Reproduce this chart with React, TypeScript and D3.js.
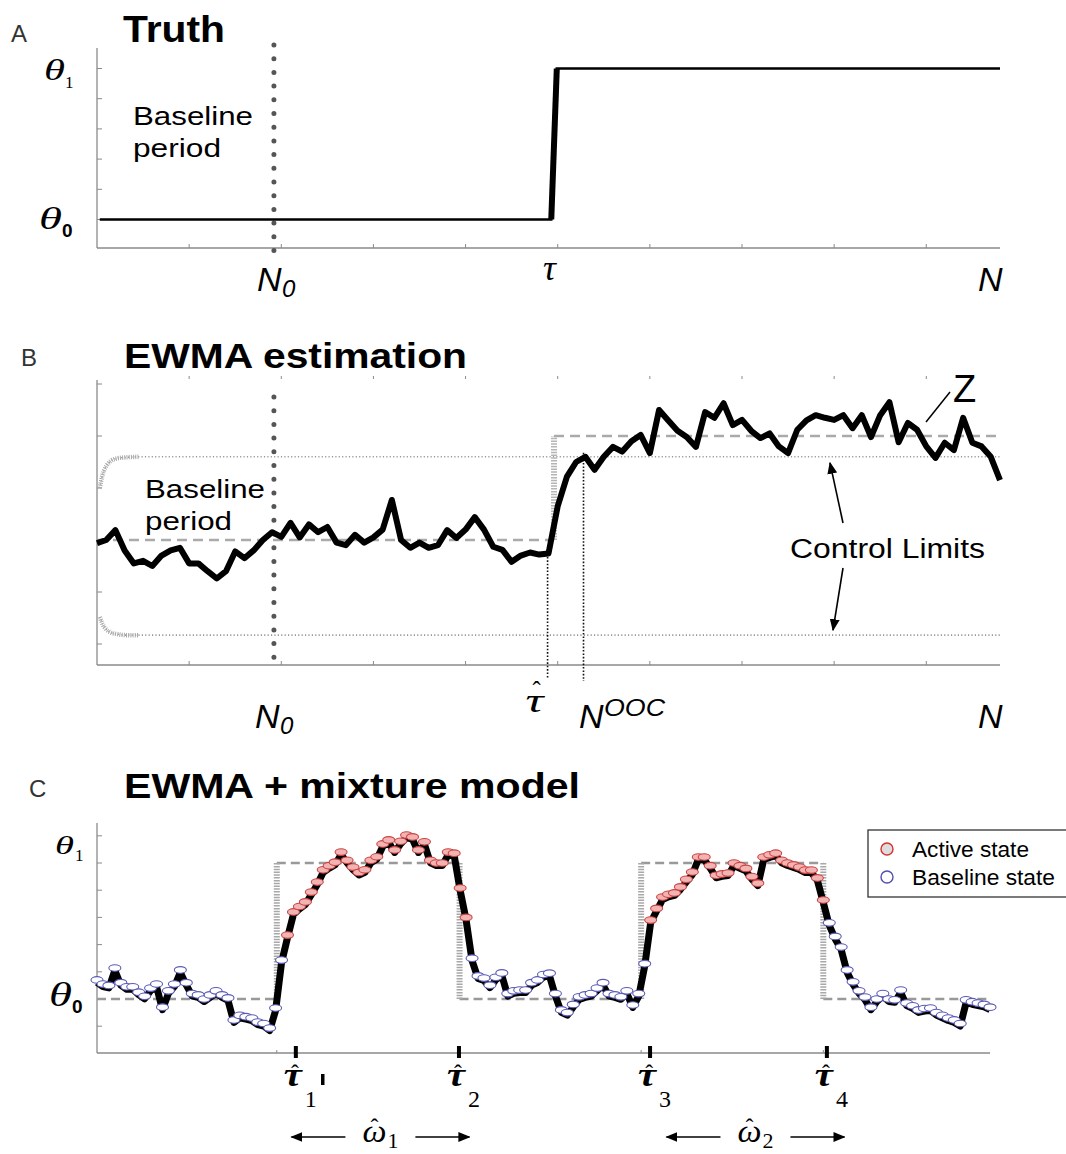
import React from 'react';
import * as d3 from 'd3';

// ---------- Panel A: true mean ----------
const truthX = [0.3, 49.3, 49.9, 98];
const truthY = [0, 0, 5, 5]; // θ0 = 0, θ1 = 5
const n0 = 19.2;
const tauTrue = 49.6;

// ---------- Panel B: EWMA statistic ----------
const ewmaB = [
  -0.06, 0.0, 0.19, -0.2, -0.45, -0.4, -0.5, -0.3, -0.2, -0.15,
  -0.45, -0.45, -0.6, -0.74, -0.6, -0.22, -0.35, -0.2, 0.0, 0.15,
  0.06, 0.33, 0.05, 0.3, 0.15, 0.25, -0.05, -0.1, 0.1, -0.05,
  0.05, 0.2, 0.77, 0.0, -0.15, -0.05, -0.15, -0.1, 0.19, 0.04,
  0.2, 0.44, 0.2, -0.13, -0.19, -0.42, -0.3, -0.24, -0.28, -0.26,
  0.65, 1.22, 1.5, 1.6, 1.35, 1.6, 1.79, 1.7, 1.9, 2.02,
  1.67, 2.5, 2.3, 2.1, 1.98, 1.79, 2.46, 2.35, 2.63, 2.21,
  2.31, 2.1, 1.96, 2.05, 1.8, 1.67, 2.12, 2.3, 2.4, 2.35,
  2.31, 2.4, 2.15, 2.4, 1.98, 2.4, 2.65, 1.88, 2.25, 2.12,
  1.8, 1.58, 1.87, 1.73, 2.35, 1.87, 1.8, 1.6, 1.15,
];
const meanEstX = [0, 49.3, 49.6, 98];
const meanEstY = [0, 0, 2, 2];
const tauHatB = 48.9;
const nOOC = 52.8;
const clX = [0.3, 0.6, 1.0, 1.5, 2.2, 3.2, 4.5, 98];
const clUpper = [1.0, 1.25, 1.42, 1.52, 1.57, 1.59, 1.6, 1.6];
const clLower = [-1.48, -1.62, -1.72, -1.78, -1.81, -1.83, -1.83, -1.83];
const clRampEnd = 6; // index where the start-up curve of the limits ends

// ---------- Panel C: EWMA + mixture model ----------
const ewmaC = [
  0.7, 0.55, 0.5, 1.14, 0.6, 0.45, 0.45, 0.25, 0.1, 0.4,
  0.55, -0.3, 0.3, 0.55, 1.07, 0.6, 0.2, 0.15, 0.0, 0.15,
  0.3, 0.15, 0.04, -0.77, -0.6, -0.65, -0.7, -0.85, -0.9, -1.07,
  -0.33, 1.43, 2.35, 3.2, 3.4, 3.57, 3.93, 4.3, 4.75, 4.9,
  5.03, 5.4, 5.1, 4.85, 4.65, 4.75, 5.1, 5.23, 5.7, 5.85,
  5.48, 5.8, 6.03, 5.96, 5.48, 5.78, 5.1, 5.0, 5.0, 5.4,
  5.36, 4.08, 3.0, 1.5, 0.85, 0.77, 0.51, 0.8, 0.96, 0.2,
  0.3, 0.33, 0.33, 0.6, 0.7, 0.9, 0.95, 0.2, -0.4, -0.5,
  -0.2, 0.08, 0.15, 0.2, 0.4, 0.6, 0.2, 0.15, 0.08, 0.3,
  -0.22, 0.2, 1.3, 2.9, 3.33, 3.75, 3.85, 3.9, 4.12, 4.4,
  4.67, 5.22, 5.22, 4.9, 4.55, 4.6, 4.63, 5.0, 4.9, 4.8,
  4.5, 4.26, 5.22, 5.3, 5.36, 5.1, 5.0, 4.93, 4.85, 4.74,
  4.74, 4.45, 3.64, 2.8, 2.3, 1.91, 1.07, 0.63, 0.3, 0.07,
  -0.3, 0.0, 0.2, 0.0, -0.03, 0.33, -0.15, -0.25, -0.4, -0.35,
  -0.33, -0.5, -0.6, -0.7, -0.77, -0.9, -0.03, -0.1, -0.15, -0.2,
  -0.3,
];
const activeRanges = [[32, 62], [93, 122]];
const trueSteps = [30.2, 60.9, 91.4, 122];
const tauHatC = [33.4, 60.8, 92.9, 122.6];
const tauHatLabels = ['1', '2', '3', '4'];
const omegaLabels = ['1', '2'];
const omegaShift = [0, 14]; // nudge of each ω̂ label from the middle of its interval, px
const legendItems = ['Active state', 'Baseline state'];

const SANS = '"Liberation Sans", Arial, Helvetica, sans-serif';
const SERIF = '"Liberation Serif", "Times New Roman", serif';
const AXIS = '#8a8a8a';

// τ̂ (optionally with a subscript) as one text element
function TauHat({ x, y, sub, size, hatLift, bold, width }: {
  x: number; y: number; sub?: string; size: number; hatLift: number; bold?: boolean; width?: number;
}) {
  const hs = size * 0.72;
  const w = width ?? size * 0.45;
  return (
    <text fontFamily={SERIF}>
      <tspan x={x} y={y} fontSize={size} fontStyle="italic" fontWeight={bold ? 'bold' : 'normal'}
        textLength={width} lengthAdjust={width ? 'spacingAndGlyphs' : undefined}>τ</tspan>
      <tspan x={x + w * 0.62 - hs * 0.17} y={y - hatLift} fontSize={hs}>ˆ</tspan>
      {sub && <tspan x={x + w + 3} y={y + 21} fontSize={24}>{sub}</tspan>}
    </text>
  );
}

function NLabel({ x, y, sub }: { x: number; y: number; sub?: string }) {
  return (
    <text fontFamily={SANS} fontStyle="italic">
      <tspan x={x} y={y} fontSize={34}>N</tspan>
      {sub && <tspan x={x + 25} y={y + 6} fontSize={24}>{sub}</tspan>}
    </text>
  );
}

function Theta({ x, y, size, width, sub, subSize, subX, subY, subBold }: {
  x: number; y: number; size: number; width: number; sub: string; subSize: number; subX: number; subY: number; subBold?: boolean;
}) {
  return (
    <text>
      <tspan x={x} y={y} fontFamily={SERIF} fontStyle="italic" fontSize={size} textLength={width} lengthAdjust="spacingAndGlyphs">θ</tspan>
      <tspan x={subX} y={subY} fontFamily={subBold ? SANS : SERIF} fontWeight={subBold ? 'bold' : 'normal'} fontSize={subSize}>{sub}</tspan>
    </text>
  );
}

export default function App() {
  const xAB = d3.scaleLinear().domain([0, 98]).range([97, 1000]);
  const yA = d3.scaleLinear().domain([0, 5]).range([219.5, 68.5]);
  const yB = d3.scaleLinear().domain([0, 2]).range([540, 436]);
  const xC = d3.scaleLinear().domain([0, 150]).range([97, 990]);
  const yC = d3.scaleLinear().domain([0, 5]).range([999, 863]);

  const xTicksAB = d3.range(10, 91, 10);

  // Panel A paths
  const truthLine = d3.line<number>().x((_, i) => xAB(truthX[i])).y((d) => yA(d));
  const truthPath = truthLine(truthY) || '';
  const jumpPath = d3.line<number>().x((_, i) => xAB(truthX[i + 1])).y((d) => yA(d))(truthY.slice(1, 3)) || '';

  // Panel B paths
  const ewmaBPath = d3.line<number>().x((_, i) => xAB(i)).y((d) => yB(d))(ewmaB) || '';
  const clLine = d3.line<number>().x((_, i) => xAB(clX[i])).y((d) => yB(d)).curve(d3.curveMonotoneX);
  const clUpPath = clLine(clUpper) || '';
  const clLoPath = clLine(clLower) || '';
  const clUpRamp = clLine(clUpper.slice(0, clRampEnd + 1)) || '';
  const clLoRamp = clLine(clLower.slice(0, clRampEnd + 1)) || '';
  const clUpLast = clUpper[clUpper.length - 1];
  const clLoLast = clLower[clLower.length - 1];

  // Panel C paths
  const ewmaCPath = d3.line<number>().x((_, i) => xC(i)).y((d) => yC(d))(ewmaC) || '';
  const isActive = (i: number) => activeRanges.some(([a, b]) => i >= a && i <= b);
  const levelAt = (k: number) => (k % 2 === 0 ? 0 : 5);
  const stepBounds = [0, ...trueSteps, 150];

  const arrow = (x1: number, y1: number, x2: number, y2: number, key: string) => (
    <line key={key} x1={x1} y1={y1} x2={x2} y2={y2} stroke="#000" strokeWidth={1.6} markerEnd="url(#head)" />
  );

  return (
    <div style={{ position: 'absolute', left: 0, top: 0 }}>
      <svg width={1066} height={1154} style={{ display: 'block', background: '#fff' }}>
        <defs>
          <marker id="head" viewBox="0 0 12 10" refX="11" refY="5" markerWidth="12" markerHeight="10" markerUnits="userSpaceOnUse" orient="auto">
            <path d="M0,0 L12,5 L0,10 Z" fill="#000" />
          </marker>
        </defs>

        {/* ================= Panel A ================= */}
        <text x={11} y={42} fontFamily={SANS} fontSize={24} fill="#333">A</text>
        <text x={123} y={42} fontFamily={SANS} fontSize={37} fontWeight="bold" textLength={102} lengthAdjust="spacingAndGlyphs">Truth</text>
        <line x1={97} y1={48} x2={97} y2={248} stroke={AXIS} strokeWidth={1.3} />
        <line x1={97} y1={248} x2={1000} y2={248} stroke={AXIS} strokeWidth={1.3} />
        {d3.range(0, 6).map((v) => (
          <line key={`ay${v}`} x1={97} x2={102} y1={yA(v)} y2={yA(v)} stroke={AXIS} strokeWidth={1} />
        ))}
        {xTicksAB.map((t) => (
          <line key={`ax${t}`} x1={xAB(t)} x2={xAB(t)} y1={248} y2={244} stroke={AXIS} strokeWidth={1} />
        ))}
        <line x1={xAB(n0)} x2={xAB(n0)} y1={45} y2={251} stroke="#555" strokeWidth={5} strokeLinecap="round" strokeDasharray="0 13.7" />
        <path d={truthPath} fill="none" stroke="#000" strokeWidth={2.6} />
        <path d={jumpPath} fill="none" stroke="#000" strokeWidth={6} />
        <text x={133} y={125} fontFamily={SANS} fontSize={26} textLength={120} lengthAdjust="spacingAndGlyphs">Baseline</text>
        <text x={133} y={157} fontFamily={SANS} fontSize={26} textLength={88} lengthAdjust="spacingAndGlyphs">period</text>
        <Theta x={44} y={80} size={29} width={21} sub="1" subSize={17} subX={65} subY={88} />
        <Theta x={39} y={229} size={32} width={23} sub="0" subSize={19} subX={62} subY={237} subBold />
        <NLabel x={257} y={291} sub="0" />
        <text x={xAB(tauTrue) - 11} y={280} fontFamily={SERIF} fontStyle="italic" fontSize={36}>τ</text>
        <NLabel x={978} y={291} />

        {/* ================= Panel B ================= */}
        <text x={21} y={366} fontFamily={SANS} fontSize={24} fill="#333">B</text>
        <text x={124} y={368} fontFamily={SANS} fontSize={35} fontWeight="bold" textLength={343} lengthAdjust="spacingAndGlyphs">EWMA estimation</text>
        <line x1={97} y1={380} x2={97} y2={665} stroke={AXIS} strokeWidth={1.3} />
        <line x1={97} y1={665} x2={1000} y2={665} stroke={AXIS} strokeWidth={1.3} />
        {d3.range(-2, 4).map((v) => (
          <line key={`by${v}`} x1={97} x2={102} y1={yB(v)} y2={yB(v)} stroke={AXIS} strokeWidth={1} />
        ))}
        {xTicksAB.map((t) => (
          <g key={`bx${t}`}>
            <line x1={xAB(t)} x2={xAB(t)} y1={665} y2={661} stroke={AXIS} strokeWidth={1} />
            <line x1={xAB(t)} x2={xAB(t)} y1={376} y2={379} stroke={AXIS} strokeWidth={1} />
          </g>
        ))}
        {/* control limits */}
        <path d={clUpPath} fill="none" stroke="#999" strokeWidth={1.6} strokeDasharray="1.2 2.2" />
        <path d={clLoPath} fill="none" stroke="#999" strokeWidth={1.6} strokeDasharray="1.2 2.2" />
        <path d={clUpRamp} fill="none" stroke="#aaa" strokeWidth={4.5} strokeDasharray="1 1.2" />
        <path d={clLoRamp} fill="none" stroke="#aaa" strokeWidth={4.5} strokeDasharray="1 1.2" />
        {/* estimated mean */}
        <line x1={xAB(meanEstX[0])} x2={xAB(meanEstX[1])} y1={yB(meanEstY[0])} y2={yB(meanEstY[1])} stroke="#aaa" strokeWidth={2.6} strokeDasharray="10 6" />
        <line x1={xAB(meanEstX[2])} x2={xAB(meanEstX[2])} y1={yB(meanEstY[1])} y2={yB(meanEstY[2])} stroke="#b5b5b5" strokeWidth={6} strokeDasharray="1.5 1.3" />
        <line x1={xAB(meanEstX[2])} x2={xAB(meanEstX[3])} y1={yB(meanEstY[2])} y2={yB(meanEstY[3])} stroke="#aaa" strokeWidth={2.6} strokeDasharray="10 6" />
        <line x1={xAB(n0)} x2={xAB(n0)} y1={397} y2={658} stroke="#555" strokeWidth={5} strokeLinecap="round" strokeDasharray="0 13.7" />
        <line x1={xAB(tauHatB)} x2={xAB(tauHatB)} y1={yB(ewmaB[49])} y2={679} stroke="#111" strokeWidth={1.6} strokeDasharray="1.6 1.8" />
        <line x1={xAB(nOOC)} x2={xAB(nOOC)} y1={yB(clUpLast) - 4} y2={681} stroke="#111" strokeWidth={1.6} strokeDasharray="1.6 1.8" />
        <path d={ewmaBPath} fill="none" stroke="#000" strokeWidth={6} strokeLinejoin="round" />
        <text x={145} y={498} fontFamily={SANS} fontSize={26} textLength={120} lengthAdjust="spacingAndGlyphs">Baseline</text>
        <text x={145} y={530} fontFamily={SANS} fontSize={26} textLength={87} lengthAdjust="spacingAndGlyphs">period</text>
        <text x={790} y={558} fontFamily={SANS} fontSize={27} textLength={195} lengthAdjust="spacingAndGlyphs">Control Limits</text>
        {arrow(843, 523, 830, yB(clUpLast) + 6, 'upArrow')}
        {arrow(843, 568, 833, yB(clLoLast) - 5, 'loArrow')}
        <text x={953} y={402} fontFamily={SANS} fontSize={38}>Z</text>
        <line x1={950} y1={392} x2={926} y2={422} stroke="#000" strokeWidth={1.5} />
        <NLabel x={255} y={728} sub="0" />
        <TauHat x={xAB(tauHatB) - 22} y={712} size={34} hatLift={13} width={18} />
        <text fontFamily={SANS} fontStyle="italic">
          <tspan x={579} y={728} fontSize={34}>N</tspan>
          <tspan x={604} y={716} fontSize={24} textLength={61} lengthAdjust="spacingAndGlyphs">OOC</tspan>
        </text>
        <NLabel x={978} y={728} />

        {/* ================= Panel C ================= */}
        <text x={29} y={797} fontFamily={SANS} fontSize={24} fill="#333">C</text>
        <text x={124} y={798} fontFamily={SANS} fontSize={35} fontWeight="bold" textLength={456} lengthAdjust="spacingAndGlyphs">EWMA + mixture model</text>
        <line x1={97} y1={823} x2={97} y2={1053} stroke={AXIS} strokeWidth={1.3} />
        <line x1={97} y1={1053} x2={990} y2={1053} stroke={AXIS} strokeWidth={1.3} />
        {d3.range(-1, 7).map((v) => (
          <line key={`cy${v}`} x1={97} x2={102} y1={yC(v)} y2={yC(v)} stroke={AXIS} strokeWidth={1} />
        ))}
        {trueSteps.map((s) => (
          <line key={`cx${s}`} x1={xC(s)} x2={xC(s)} y1={1053} y2={1050} stroke={AXIS} strokeWidth={1} />
        ))}
        {/* true on/off signal */}
        {stepBounds.slice(0, -1).map((b, k) => (
          <line key={`lvl${k}`} x1={xC(b)} x2={xC(stepBounds[k + 1])} y1={yC(levelAt(k))} y2={yC(levelAt(k))} stroke="#999" strokeWidth={2.6} strokeDasharray="9 5" />
        ))}
        {trueSteps.map((s, k) => (
          <line key={`jump${k}`} x1={xC(s)} x2={xC(s)} y1={yC(0)} y2={yC(5)} stroke="#a8a8a8" strokeWidth={6} strokeDasharray="1.5 1.3" />
        ))}
        <path d={ewmaCPath} fill="none" stroke="#000" strokeWidth={7} strokeLinejoin="round" transform="translate(0,2.5)" />
        {ewmaC.map((v, i) => (
          <ellipse
            key={`m${i}`}
            cx={xC(i)}
            cy={yC(v)}
            rx={6}
            ry={3.3}
            fill={isActive(i) ? '#f2b3b3' : '#fff'}
            stroke={isActive(i) ? '#cc4444' : '#5a5ab8'}
            strokeWidth={1.1}
          />
        ))}
        <Theta x={55} y={854} size={26} width={19} sub="1" subSize={17} subX={75} subY={861} />
        <Theta x={49} y={1006} size={33} width={23} sub="0" subSize={19} subX={72} subY={1013} subBold />
        {tauHatC.map((t, k) => (
          <g key={`th${k}`}>
            <rect x={xC(t) - 2} y={1046} width={4} height={12} fill="#000" />
            <TauHat x={xC(t) - 12} y={1086} sub={tauHatLabels[k]} size={33} hatLift={5} bold width={18} />
          </g>
        ))}
        <rect x={321} y={1074} width={3.5} height={11} fill="#000" />
        {omegaLabels.map((lab, k) => {
          const cx = xC((tauHatC[2 * k] + tauHatC[2 * k + 1]) / 2) + omegaShift[k];
          return (
            <g key={`om${k}`}>
              <text fontFamily={SERIF}>
                <tspan x={cx - 15} y={1142} fontSize={32} fontStyle="italic" textLength={24} lengthAdjust="spacingAndGlyphs">ω</tspan>
                <tspan x={cx - 7} y={1135} fontSize={24}>ˆ</tspan>
                <tspan x={cx + 10} y={1148} fontSize={22}>{lab}</tspan>
              </text>
              {arrow(cx - 32, 1137, cx - 86, 1137, `la${k}`)}
              {arrow(cx + 38, 1137, cx + 92, 1137, `ra${k}`)}
            </g>
          );
        })}
        {/* legend */}
        <rect x={868} y={830} width={210} height={67} fill="#fff" stroke="#333" strokeWidth={1.3} />
        {legendItems.map((lab, k) => (
          <g key={lab}>
            <circle cx={887} cy={849 + k * 28} r={6} fill={k === 0 ? '#ddd' : '#fff'} stroke={k === 0 ? '#d83030' : '#5050b0'} strokeWidth={1.4} />
            <text x={912} y={857 + k * 28} fontFamily={SANS} fontSize={22} textLength={k === 0 ? 117 : 143} lengthAdjust="spacingAndGlyphs">{lab}</text>
          </g>
        ))}
      </svg>
    </div>
  );
}
